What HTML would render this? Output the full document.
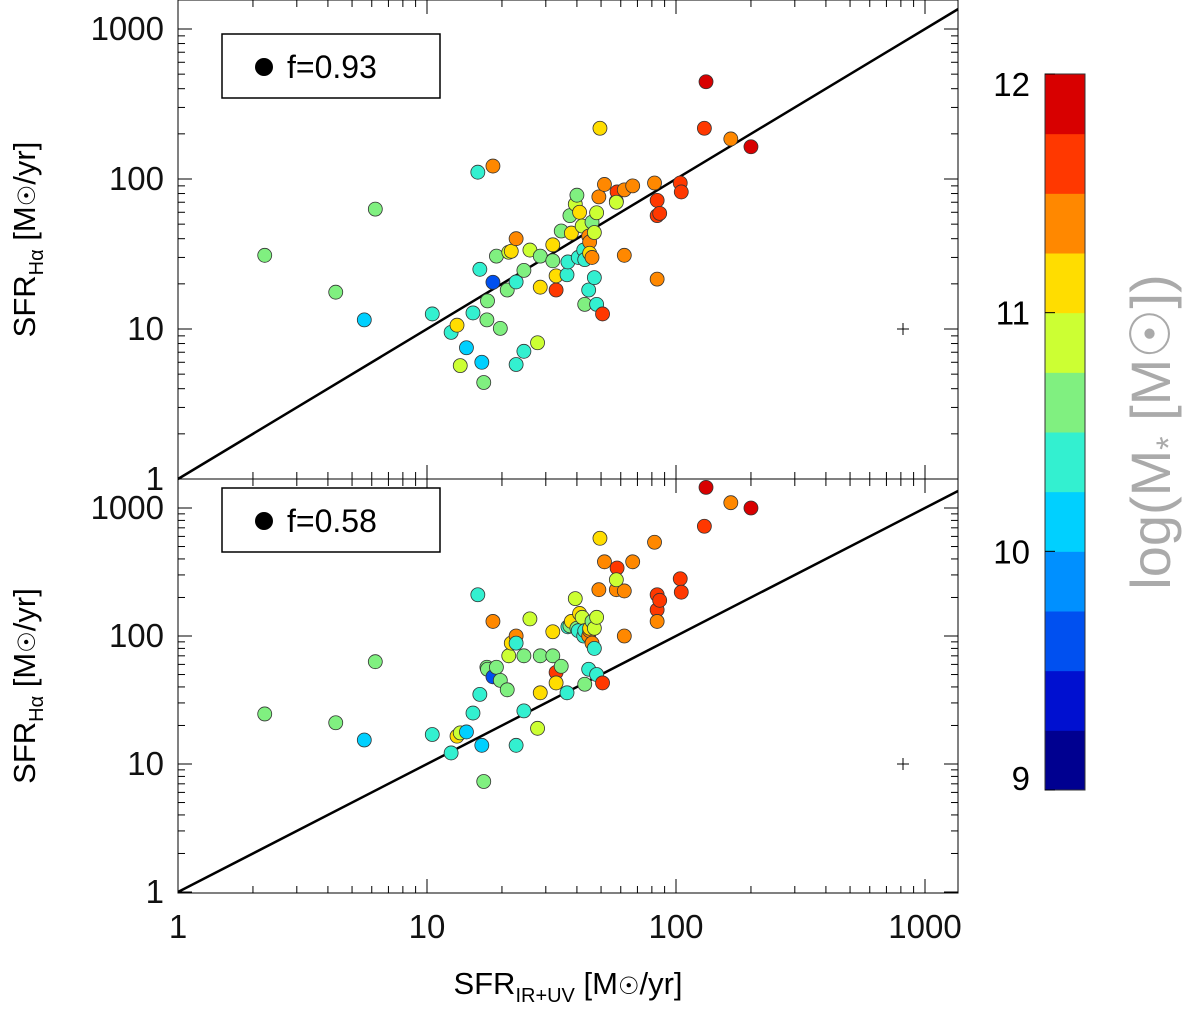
<!DOCTYPE html>
<html><head><meta charset="utf-8"><style>
body{margin:0;background:#fff;}
svg{display:block;font-family:"Liberation Sans",sans-serif;}
</style></head><body>
<svg id="chart" width="1200" height="1009" viewBox="0 0 1200 1009">
<g id="top"></g>
<g id="bot"></g>
<g id="cbar"></g>
</svg>
<script>
// data
const sfrIRUV = [2.23,4.3,5.6,6.2,10.5,12.5,13.2,13.6,14.4,15.3,16,16.3,16.6,16.9,17.4,17.5,18.4,18.4,19,19.7,21,21.3,21.8,22.8,22.8,22.8,24.5,24.5,25.9,27.8,28.5,28.5,32,32,33,33,34.6,36.5,36.8,37.5,38,39.4,40,40.5,41,42,42.6,43,43,44.6,44.6,45,45,46,46,47,48,47,48,49,49.5,50.7,51.6,57.6,62,58,62,57.6,67,82,84,84,86,84,104,105,130,132,166,200];
const sfrHaTop = [31,17.6,11.5,63,12.6,9.5,10.6,5.7,7.5,12.8,111,25,6,4.4,11.5,15.4,122,20.5,30.6,10.1,18.2,32.5,33,40,20.6,5.8,7.1,24.6,33.6,8.1,19,30.6,36.4,28.5,18.2,22.6,45,23,28,57,43.6,68,78,30,60,48.6,33.6,29,14.6,18.2,41.6,38,32,30,51.6,44,59.6,22,14.6,76,218,12.6,92,71,31,82,84.6,70,90,94,72,57,59,21.5,94,82,218,445,185,164];
const sfrHaBot = [24.6,21,15.4,63,17,12.2,16.5,17.5,17.8,25,210,35,14,7.3,57,55,130,48,57,45,38,70,88,100,88,14,26,70,136,19,36,70,108,70,52,43,58,36,118,120,130,196,115,110,150,140,100,110,42,55,100,110,115,88,130,115,140,80,50,230,580,43,380,230,100,340,225,275,380,540,210,160,190,130,280,220,720,1450,1100,1000];
const logMass = [10.6,10.6,10.1,10.6,10.3,10.4,11.1,10.85,10.1,10.3,10.4,10.3,10.1,10.6,10.6,10.65,11.35,9.7,10.6,10.6,10.6,10.85,11.1,11.35,10.4,10.4,10.3,10.6,10.85,10.85,11.1,10.6,11.1,10.6,11.6,11.1,10.6,10.4,10.3,10.6,11.1,10.85,10.6,10.3,11.1,10.85,10.4,10.3,10.65,10.4,11.35,11.35,11.1,11.35,10.6,10.85,10.85,10.4,10.3,11.35,11.1,11.6,11.35,11.35,11.35,11.6,11.35,10.85,11.35,11.35,11.6,11.6,11.6,11.35,11.6,11.6,11.6,11.85,11.35,11.85];
const fValues = ["0.93","0.58"];
const xTicks = [1,10,100,1000];
const yTicks = [1,10,100,1000];
const cbTicks = [9,10,11,12];
const bandColors = ["#000090","#0010d0","#0050f0","#0090ff","#00d0ff","#33f0d0","#80f080","#ccff33","#ffdd00","#ff8800","#ff3800","#d80000"];

const NS="http://www.w3.org/2000/svg";
function mk(tag,attrs,parent){const e=document.createElementNS(NS,tag);for(const k in attrs)e.setAttribute(k,attrs[k]);parent.appendChild(e);return e;}
const X0=178,X1=958,XD=249;
const xS=v=>X0+Math.log10(v)*XD;
function massColor(m){let i=Math.floor((m-9)/0.25);i=Math.max(0,Math.min(11,i));return bandColors[i];}

function panel(g,top,bottom,base,dec,ys,f,legY,showX){
  const yS=v=>base-Math.log10(v)*dec;
  const fr=mk('rect',{x:X0,y:top,width:X1-X0,height:bottom-top,fill:'none',stroke:'#000','stroke-width':1},g);
  
  for(let d=0;d<=3;d++)for(let k=1;k<10;k++){
    const v=Math.pow(10,d)*k;const x=xS(v);if(x>X1)continue;const L=k==1?14:7;
    mk('line',{x1:x,x2:x,y1:bottom,y2:bottom-L,stroke:'#000'},g);
    mk('line',{x1:x,x2:x,y1:top,y2:top+L,stroke:'#000'},g);
    const y=yS(v);if(y<top)continue;
    mk('line',{x1:X0,x2:X0+L,y1:y,y2:y,stroke:'#000'},g);
    mk('line',{x1:X1,x2:X1-L,y1:y,y2:y,stroke:'#000'},g);
  }
  yTicks.forEach(v=>{const t=mk('text',{x:X0-14,y:yS(v)+11,'font-size':33,'text-anchor':'end',fill:'#111'},g);t.textContent=v;
    });
  if(showX)xTicks.forEach(v=>{const t=mk('text',{x:xS(v),y:bottom+45,'font-size':33,'text-anchor':'middle',fill:'#111'},g);t.textContent=v;
    });
  const xe=Math.pow(10,(X1-X0)/XD);const ye=Math.min(xe,Math.pow(10,(base-top)/dec));
  const ln=mk('line',{x1:xS(1),y1:yS(1),x2:xS(ye),y2:yS(ye),stroke:'#000','stroke-width':2.5},g);
  
  sfrIRUV.forEach((xv,i)=>{const c=mk('circle',{cx:xS(xv),cy:yS(ys[i]),r:7,fill:massColor(logMass[i]),stroke:'#333','stroke-width':0.8},g);
    });
  const ex=903,ey=yS(10);
  mk('line',{x1:ex-6,x2:ex+6,y1:ey,y2:ey,stroke:'#000'},g);mk('line',{x1:ex,x2:ex,y1:ey-6,y2:ey+6,stroke:'#000'},g);
  const lg=mk('g',{},g);
  mk('rect',{x:222,y:legY,width:218,height:64,fill:'#fff',stroke:'#000','stroke-width':1.5},lg);
  mk('circle',{cx:264,cy:legY+33,r:9,fill:'#000'},lg);
  const lt=mk('text',{x:287,y:legY+44,'font-size':32},lg);lt.textContent='f='+f;
  const yt=mk('text',{transform:`translate(35,${(top+bottom)/2}) rotate(-90)`,'font-size':31,'text-anchor':'middle'},g);
  yt.innerHTML='SFR<tspan font-size="20" dy="8">Hα</tspan><tspan dy="-8"> [M<tspan font-size="24">☉</tspan>/yr]</tspan>';
  
}
panel(document.getElementById('top'),0,479,479,150,sfrHaTop,fValues[0],34,false);
panel(document.getElementById('bot'),479,893,892,128,sfrHaBot,fValues[1],488,true);
const svg=document.getElementById('chart');
const xt=mk('text',{x:568,y:994,'font-size':31,'text-anchor':'middle'},svg);
xt.innerHTML='SFR<tspan font-size="20" dy="8">IR+UV</tspan><tspan dy="-8"> [M<tspan font-size="24">☉</tspan>/yr]</tspan>';


const cb=document.getElementById('cbar');const CT=74,CB=790,bh=(CB-CT)/12;
bandColors.forEach((c,i)=>{const r=mk('rect',{x:1045,y:CB-(i+1)*bh,width:40,height:bh+0.5,fill:c},cb);
  });
mk('rect',{x:1045,y:CT,width:40,height:CB-CT,fill:'none',stroke:'#333','stroke-width':1},cb);
cbTicks.forEach(v=>{const y=CB-(v-9)/3*(CB-CT);mk('line',{x1:1045,x2:1055,y1:y,y2:y,stroke:'#000'},cb);
  const t=mk('text',{x:1030,y:Math.min(Math.max(y+12,CT+22),CB),'font-size':33,'text-anchor':'end'},cb);t.textContent=v;
  });
const ct=mk('text',{transform:'translate(1170,432) rotate(-90)','font-size':56,'text-anchor':'middle',fill:'#aaa'},cb);
ct.innerHTML='log(M<tspan font-size="34" dy="10">*</tspan><tspan dy="-10"> [M☉])</tspan>';


</script>
</body></html>
